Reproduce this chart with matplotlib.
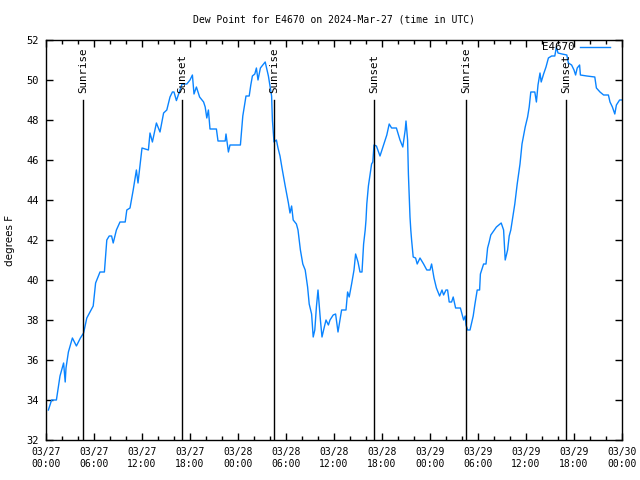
import matplotlib
matplotlib.use("Agg")
import matplotlib.pyplot as plt
from matplotlib.ticker import MultipleLocator

# hours since 2024-03-27 00:00 UTC and dew point (F)
hours = [0.3, 0.7, 1.3, 1.75, 2.2, 2.4, 2.5, 2.8, 3.3, 3.8, 4.3, 4.7, 5.1, 5.5, 5.9,
         6.2, 6.75, 7.3, 7.6, 7.9, 8.2, 8.4, 8.8, 9.25, 9.9, 10.1, 10.5, 10.9, 11.3,
         11.5, 12.0, 12.8, 13.0, 13.3, 13.8, 14.25, 14.7, 15.1, 15.5, 15.8, 16.0,
         16.3, 17.0, 17.6, 18.0, 18.3, 18.5, 18.8, 19.2, 19.7, 19.9, 20.1, 20.3,
         20.5, 21.3, 21.5, 22.4, 22.5, 22.8, 23.0, 24.3, 24.6, 25.0, 25.4, 25.6,
         25.8, 26.1, 26.3, 26.5, 26.8, 27.2, 27.4, 27.8, 28.2, 28.3, 28.5, 28.8,
         29.0, 29.25, 29.5, 29.9, 30.3, 30.5, 30.7, 30.9, 31.3, 31.5, 31.8, 32.1,
         32.4, 32.7, 32.9, 33.2, 33.4, 33.6, 33.8, 34.0, 34.1, 34.3, 34.5, 34.7,
         35.0, 35.3, 35.5, 35.9, 36.2, 36.5, 36.75, 36.95, 37.5, 37.7, 37.9, 38.2,
         38.5, 38.7, 39.0, 39.25, 39.5, 39.7, 39.9, 40.0, 40.1, 40.3, 40.7, 40.85,
         41.0, 41.3, 41.75, 42.2, 42.6, 42.9, 43.2, 43.8, 44.25, 44.6, 44.9, 45.0,
         45.2, 45.3, 45.5, 45.6, 45.7, 45.9, 46.2, 46.4, 46.75, 47.2, 47.6, 48.0,
         48.2, 48.5, 48.8, 49.2, 49.5, 49.7, 50.0, 50.2, 50.4, 50.7, 50.9, 51.2,
         51.8, 52.2, 52.4, 52.5, 52.7, 53.0, 53.4, 53.6, 53.9, 54.2, 54.3, 54.7,
         55.0, 55.2, 55.4, 55.6, 56.3, 56.9, 57.2, 57.4, 57.7, 57.9, 58.1, 58.6,
         58.9, 59.25, 59.5, 59.9, 60.2, 60.4, 60.6, 61.1, 61.3, 61.5, 61.75, 61.9,
         62.2, 62.5, 62.8, 63.2, 63.6, 63.8, 64.0, 64.5, 65.1, 65.3, 65.7, 66.0,
         66.2, 66.4, 66.7, 66.8, 67.6, 68.6, 68.8, 69.25, 69.7, 70.3, 70.5, 70.8,
         71.1, 71.3, 71.7, 72.0]
dewpt = [33.5, 34.0, 34.0, 35.2, 35.85, 34.9, 35.6, 36.4, 37.1, 36.7, 37.1, 37.35, 38.1,
         38.4, 38.7, 39.85, 40.4, 40.4, 42.0, 42.2, 42.2, 41.85, 42.5, 42.9, 42.9,
         43.5, 43.6, 44.5, 45.5, 44.85, 46.6, 46.5, 47.35, 46.9, 47.85, 47.4, 48.35,
         48.5, 49.15, 49.4, 49.4, 48.97, 49.8, 49.8, 50.0, 50.25, 49.3, 49.65, 49.15,
         48.9, 48.65, 48.1, 48.5, 47.55, 47.55, 46.95, 46.95, 47.3, 46.4, 46.75,
         46.75, 48.2, 49.2, 49.2, 49.75, 50.2, 50.3, 50.6, 50.0, 50.6, 50.8, 50.9,
         50.2, 49.2, 48.0, 46.9, 47.0, 46.6, 46.2, 45.6, 44.7, 43.85, 43.35, 43.7,
         43.0, 42.8, 42.5, 41.5, 40.8, 40.5, 39.65, 38.8, 38.3, 37.15, 37.5, 38.65,
         39.5, 39.0, 38.0, 37.15, 37.5, 38.0, 37.75, 38.0, 38.25, 38.3, 37.4, 38.0,
         38.5, 38.5, 39.4, 39.15, 39.8, 40.5, 41.3, 40.9, 40.4, 40.4, 41.8, 42.5,
         43.0, 43.8, 44.7, 45.8, 45.9, 46.75, 46.7, 46.2, 46.75, 47.25, 47.8, 47.6,
         47.6, 47.0, 46.65, 47.5, 47.95, 47.0, 45.3, 43.15, 42.5, 42.0, 41.15, 41.1,
         40.8, 41.1, 40.8, 40.5, 40.5, 40.8, 40.1, 39.6, 39.2, 39.5, 39.25, 39.5,
         39.5, 38.9, 38.9, 39.15, 38.6, 38.6, 38.0, 38.2, 37.75, 37.5, 37.5, 38.2,
         38.75, 39.5, 39.5, 40.3, 40.8, 40.8, 41.6, 41.9, 42.25, 42.65, 42.85, 42.5,
         41.0, 41.5, 42.2, 42.5, 43.8, 44.8, 45.8, 46.8, 47.65, 48.15, 48.65, 49.4,
         49.4, 48.9, 49.75, 50.35, 49.9, 50.3, 50.65, 51.1, 51.2, 51.2, 51.65, 51.35,
         51.3, 51.25, 50.85, 50.75, 50.5, 50.25, 50.6, 50.75, 50.25, 50.2, 50.15,
         49.6, 49.4, 49.25, 49.25, 48.9, 48.65, 48.3, 48.75, 49.0, 49.0]

sun_hours = [4.6, 17.03, 28.55, 41.03, 52.55, 65.03]
sun_labels = ["Sunrise", "Sunset", "Sunrise", "Sunset", "Sunrise", "Sunset"]

tick_hours = [0, 6, 12, 18, 24, 30, 36, 42, 48, 54, 60, 66, 72]
tick_labels = ["03/27\n00:00", "03/27\n06:00", "03/27\n12:00", "03/27\n18:00",
               "03/28\n00:00", "03/28\n06:00", "03/28\n12:00", "03/28\n18:00",
               "03/29\n00:00", "03/29\n06:00", "03/29\n12:00", "03/29\n18:00",
               "03/30\n00:00"]

mono = "DejaVu Sans Mono"
blue = "#0a84ff"

fig = plt.figure(figsize=(6.4, 4.8), dpi=100)
ax = fig.add_axes([46 / 640, 40 / 480, 576 / 640, 400 / 480])

ax.plot(hours, dewpt, color=blue, lw=1.0, label="E4670")

for h, lab in zip(sun_hours, sun_labels):
    ax.plot([h, h], [32, 49.0], color="black", lw=1.0)
    ax.text(h, 49.35, lab, rotation=90, ha="center", va="bottom",
            fontsize=7.8, family=mono)

ax.set_xlim(0, 72)
ax.set_ylim(32, 52)
ax.set_xticks(tick_hours)
ax.set_xticklabels(tick_labels, family=mono, fontsize=7)
ax.xaxis.set_minor_locator(MultipleLocator(2))
ax.yaxis.set_major_locator(MultipleLocator(2))
for lab in ax.get_yticklabels():
    lab.set_family(mono)
    lab.set_fontsize(7.5)

ax.tick_params(which="both", direction="in", top=True, right=True, width=1)
ax.tick_params(which="major", length=5, pad=5)
ax.tick_params(which="minor", length=3)
for sp in ax.spines.values():
    sp.set_linewidth(1)

fig.text(10 / 640, 0.5, "degrees F", rotation=90, ha="center", va="center",
         fontsize=7.5)
ax.set_title("Dew Point for E4670 on 2024-Mar-27 (time in UTC)",
             family=mono, fontsize=7, pad=12.5)

ax.legend(loc="upper right", bbox_to_anchor=(0.9866, 1.005), frameon=False,
          markerfirst=False, prop={"family": mono, "size": 7.8},
          handlelength=2.8, borderaxespad=0, handletextpad=0.5)

fig.savefig("out.png", dpi=100)
